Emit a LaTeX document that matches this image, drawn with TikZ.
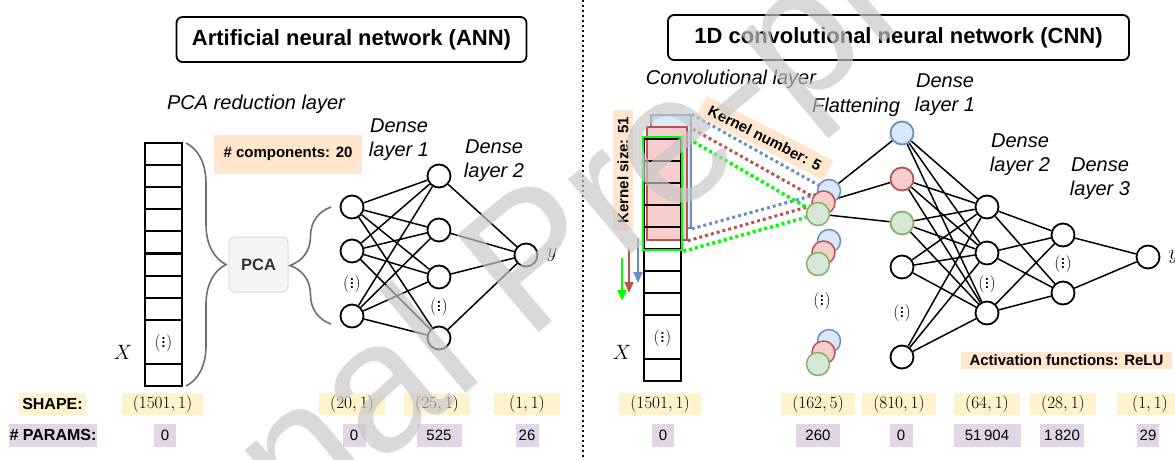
\documentclass[tikz,border=0pt]{standalone}
\usepackage{fontspec}
\setmainfont{Liberation Sans}
\usetikzlibrary{positioning,arrows.meta,decorations.pathreplacing,backgrounds}
\definecolor{shapefill}{HTML}{FFF2CC}
\definecolor{paramfill}{HTML}{E1D5E7}
\definecolor{notefill}{HTML}{FFE6CC}
\definecolor{kblue}{HTML}{6C8EBF}
\definecolor{kbluefill}{HTML}{DAE8FC}
\definecolor{kred}{HTML}{B85450}
\definecolor{kredfill}{HTML}{F8CECC}
\definecolor{kgreen}{HTML}{82B366}
\definecolor{kgreenfill}{HTML}{D5E8D4}
\definecolor{kline}{HTML}{00FF00}
\definecolor{bracegray}{HTML}{6E6E6E}
\definecolor{pcafill}{HTML}{F5F5F5}
\definecolor{pcadraw}{HTML}{DADADA}
\tikzset{
  title/.style={rectangle,rounded corners=6pt,draw=black,line width=1.8pt,font=\bfseries\fontsize{22}{26}\selectfont},
  caption/.style={font=\itshape\fontsize{20}{24}\selectfont,align=center,inner sep=0pt},
  cell/.style={rectangle,draw=black,line width=2pt,minimum width=37pt,minimum height=22pt,inner sep=0pt,anchor=north},
  neuron/.style={circle,draw=black,line width=1.8pt,minimum size=23pt,inner sep=0pt,fill=white},
  fcirc/.style={circle,line width=1.5pt,minimum size=23pt,inner sep=0pt},
  fblue/.style={fcirc,draw=kblue,fill=kbluefill},
  fred/.style={fcirc,draw=kred,fill=kredfill},
  fgreen/.style={fcirc,draw=kgreen,fill=kgreenfill},
  link/.style={line width=1.5pt},
  vdotlab/.style={font=\fontsize{19}{22}\selectfont,inner sep=0pt},
  mathlab/.style={font=\fontsize{21}{24}\selectfont,inner sep=0pt},
  shapebox/.style={fill=shapefill,minimum width=66pt,minimum height=22pt,inner xsep=11pt,inner ysep=0pt,font=\fontsize{17}{20}\selectfont},
  parambox/.style={fill=paramfill,minimum width=#1,minimum height=23pt,inner sep=0pt,font=\fontsize{15}{18}\selectfont},
  parambox/.default=22pt,
  note/.style={fill=notefill,inner sep=2pt,font=\bfseries\fontsize{15}{18}\selectfont},
  pcabox/.style={rectangle,rounded corners=6pt,draw=pcadraw,fill=pcafill,line width=1pt,minimum width=59pt,minimum height=55pt,text=black!80,font=\bfseries\fontsize{16.5}{19}\selectfont},
  bigbrace/.style={decorate,decoration={brace,amplitude=#1},draw=bracegray,line width=1.6pt},
  kernel/.style={rectangle,minimum width=40pt,minimum height=113pt,inner sep=0pt,line width=1.5pt},
  kdots/.style={line width=3pt,dash pattern=on 3pt off 3pt},
  slide/.style={line width=2pt,-{Triangle[width=9pt,length=11pt]}},
  sep/.style={line width=1.6pt,dash pattern=on 1.6pt off 3.4pt},
  watermark/.style={rotate=40,text=black!22,text opacity=0.68,font=\fontsize{185}{185}\selectfont,inner sep=0pt}
}

\begin{document}
\begin{tikzpicture}[x=1pt,y=-1pt]
  \useasboundingbox (0,0) rectangle (1175,459);

  % titles and separator
  \node[title,minimum width=350pt,minimum height=45pt] (anntitle) at (351.5,39.5) {Artificial neural network (ANN)};
  \node[title,minimum width=461pt,minimum height=45pt] (cnntitle) at (898.5,37.5) {1D convolutional neural network (CNN)};
  \coordinate (septop) at (583,0);
  \coordinate (sepbot) at (583,459);
  \draw[sep] (septop) -- (sepbot);

  % ---------- ANN ----------
  \node[caption] (pcalab) at (256,104) {PCA reduction layer};
  \foreach \i in {0,...,7}
    \node[cell] (ac\i) at (163.5,142+22.1*\i) {};
  \node[cell,minimum height=44pt] (acdots) at (163.5,319) {};
  \node[vdotlab] (acdotlab) at (acdots) {$(\vdots)$};
  \node[cell] (aclast) at (163.5,363) {};
  \node[mathlab] (ax) at (123,352) {$X$};

  \coordinate (br1top) at (186,143);
  \coordinate (br1bot) at (186,386);
  \draw[bigbrace=40pt] (br1top) -- (br1bot);
  \node[pcabox] (pca) at (258.5,264.5) {PCA};
  \coordinate (br2top) at (331,207);
  \coordinate (br2bot) at (331,324);
  \draw[bigbrace=41pt] (br2bot) -- (br2top);
  \node[note,minimum width=148pt,minimum height=39pt] (ncomp) at (288,154) {\# components: 20};

  \node[caption] (ad1lab) at (399,140) {Dense\\layer 1};
  \node[caption] (ad2lab) at (494,161) {Dense\\layer 2};

  \node[neuron] (ai1) at (352,207) {};
  \node[neuron] (ai2) at (352,251) {};
  \node[neuron] (ai3) at (352,316) {};
  \node[vdotlab] (aidots) at (352,283) {$(\vdots)$};
  \node[neuron] (ah1) at (439,176) {};
  \node[neuron] (ah2) at (439,230) {};
  \node[neuron] (ah3) at (439,277) {};
  \node[neuron] (ah4) at (439,338) {};
  \node[vdotlab] (ahdots) at (439,306) {$(\vdots)$};
  \node[neuron] (aout) at (526,255) {};
  \node[mathlab,right=8pt of aout] (ay) {$y$};

  \begin{scope}[on background layer]
    \foreach \a in {ai1,ai2,ai3}
      \foreach \b in {ah1,ah2,ah3,ah4}
        \draw[link] (\a) -- (\b);
    \foreach \a in {ah1,ah2,ah3,ah4}
      \draw[link] (\a) -- (aout);
  \end{scope}

  % ---------- CNN ----------
  \node[caption] (convlab) at (731,79) {Convolutional layer};
  \node[caption] (flatlab) at (856,107) {Flattening};
  \node[caption] (cd1lab) at (945,95) {Dense\\layer 1};
  \node[caption] (cd2lab) at (1020,155) {Dense\\layer 2};
  \node[caption] (cd3lab) at (1100,179) {Dense\\layer 3};

  \node[kernel,draw=kblue,fill=kbluefill] (kb) at (671,171.5) {};
  \node[kernel,draw=kred,fill=kredfill] (kr) at (667,183.5) {};
  \foreach \i in {0,...,7}
    \node[cell] (cc\i) at (662.5,138+22*\i) {};
  \node[cell,minimum height=44pt] (ccdots) at (662.5,314) {};
  \node[vdotlab] (ccdotlab) at (ccdots) {$(\vdots)$};
  \node[cell] (cclast) at (662.5,358) {};
  \node[kernel,draw=kline,line width=2.5pt,minimum width=39pt] (kg) at (662.5,193.5) {};
  \node[mathlab] (cx) at (622,352) {$X$};

  \node[note,rotate=90,minimum width=120pt,minimum height=20pt,inner sep=0pt] (ksize) at (623,170) {Kernel size: 51};
  \node[note,rotate=-27,minimum width=142pt,minimum height=22pt,inner sep=0pt] (knum) at (765,138) {Kernel number: 5};

  % stride arrows
  \coordinate (sbtop) at (638,238);
  \coordinate (sbbot) at (638,283);
  \coordinate (srtop) at (629,249);
  \coordinate (srbot) at (629,293);
  \coordinate (sgtop) at (622,258);
  \coordinate (sgbot) at (622,301);
  \draw[slide,kblue] (sbtop) -- (sbbot);
  \draw[slide,kred] (srtop) -- (srbot);
  \draw[slide,kline] (sgtop) -- (sgbot);

  % flattening
  \foreach \s/\y in {1/214,2/264,3/364} {
    \node[fblue] (fb\s) at (829,\y-23) {};
    \node[fred] (fr\s) at (823.5,\y-11.5) {};
    \node[fgreen] (fg\s) at (818,\y) {};
  }
  \node[vdotlab] (fdots) at (822,300) {$(\vdots)$};

  \begin{scope}[on background layer]
    \draw[kdots,kblue] (kb.north east) -- (fb1);
    \draw[kdots,kblue] (kb.south east) -- (fb1);
    \draw[kdots,kred] (kr.north east) -- (fr1);
    \draw[kdots,kred] (kr.south east) -- (fr1);
    \draw[kdots,kline,line width=3.5pt] (kg.north east) -- (fg1);
    \draw[kdots,kline,line width=3.5pt] (kg.south east) -- (fg1);
  \end{scope}

  % dense layers
  \node[fblue,line width=1.8pt] (d1b) at (902,133) {};
  \node[fred,line width=1.8pt] (d1r) at (902,179) {};
  \node[fgreen,line width=1.8pt] (d1g) at (902,223) {};
  \node[neuron] (d1w) at (902,267) {};
  \node[vdotlab] (d1dots) at (902,312) {$(\vdots)$};
  \node[neuron] (d1x) at (902,357) {};
  \node[neuron] (d2a) at (987,207) {};
  \node[neuron] (d2b) at (987,253) {};
  \node[vdotlab] (d2dots) at (987,283) {$(\vdots)$};
  \node[neuron] (d2c) at (987,313) {};
  \node[neuron] (d3a) at (1063,235) {};
  \node[vdotlab] (d3dots) at (1063,263) {$(\vdots)$};
  \node[neuron] (d3b) at (1063,293) {};
  \node[neuron] (cout) at (1148,257) {};
  \node[mathlab,right=8pt of cout] (cy) {$y$};

  \begin{scope}[on background layer]
    \draw[link] (fb1) -- (d1b);
    \draw[link] (fr1) -- (d1r);
    \draw[link] (fg1) -- (d1g);
    \foreach \a in {d1b,d1r,d1g,d1w,d1x}
      \foreach \b in {d2a,d2b,d2c}
        \draw[link] (\a) -- (\b);
    \foreach \a in {d2a,d2b,d2c}
      \foreach \b in {d3a,d3b}
        \draw[link] (\a) -- (\b);
    \draw[link] (d3a) -- (cout);
    \draw[link] (d3b) -- (cout);
  \end{scope}

  \node[note,minimum width=211pt,minimum height=17pt,inner sep=0pt] (relu) at (1066.5,360.5) {Activation functions: ReLU};

  % ---------- bottom rows ----------
  \node[shapebox,minimum width=67pt,inner xsep=0pt,font=\bfseries\fontsize{16}{19}\selectfont] (shapelab) at (52.5,404) {SHAPE:};
  \node[parambox=88pt,font=\bfseries\fontsize{16}{19}\selectfont] (paramlab) at (53,435) {\# PARAMS:};

  \node[shapebox] (s1) at (162.5,404) {$(1501,1)$};
  \node[shapebox] (s2) at (352,404) {$(20,1)$};
  \node[shapebox] (s3) at (437,404) {$(25,1)$};
  \node[shapebox] (s4) at (527,404) {$(1,1)$};
  \node[parambox] (p1) at (165,435) {0};
  \node[parambox=23pt] (p2) at (354,435) {0};
  \node[parambox=45pt] (p3) at (439,435) {525};
  \node[parambox=23pt] (p4) at (527,435) {26};

  \node[shapebox] (s5) at (660,404) {$(1501,1)$};
  \node[shapebox] (s6) at (818,404) {$(162,5)$};
  \node[shapebox] (s7) at (899,404) {$(810,1)$};
  \node[shapebox] (s8) at (987,404) {$(64,1)$};
  \node[shapebox] (s9) at (1063,404) {$(28,1)$};
  \node[shapebox] (s10) at (1150,404) {$(1,1)$};
  \node[parambox] (p5) at (663,435) {0};
  \node[parambox=44pt] (p6) at (818,435) {260};
  \node[parambox=23pt] (p7) at (901,435) {0};
  \node[parambox=67pt] (p8) at (987,435) {51\,904};
  \node[parambox=44pt] (p9) at (1062,435) {1\,820};
  \node[parambox] (p10) at (1148,435) {29};

  % watermark
  \node[watermark,anchor=base west] (wm) at (23,765) {Journal Pre-proof};
\end{tikzpicture}
\end{document}
